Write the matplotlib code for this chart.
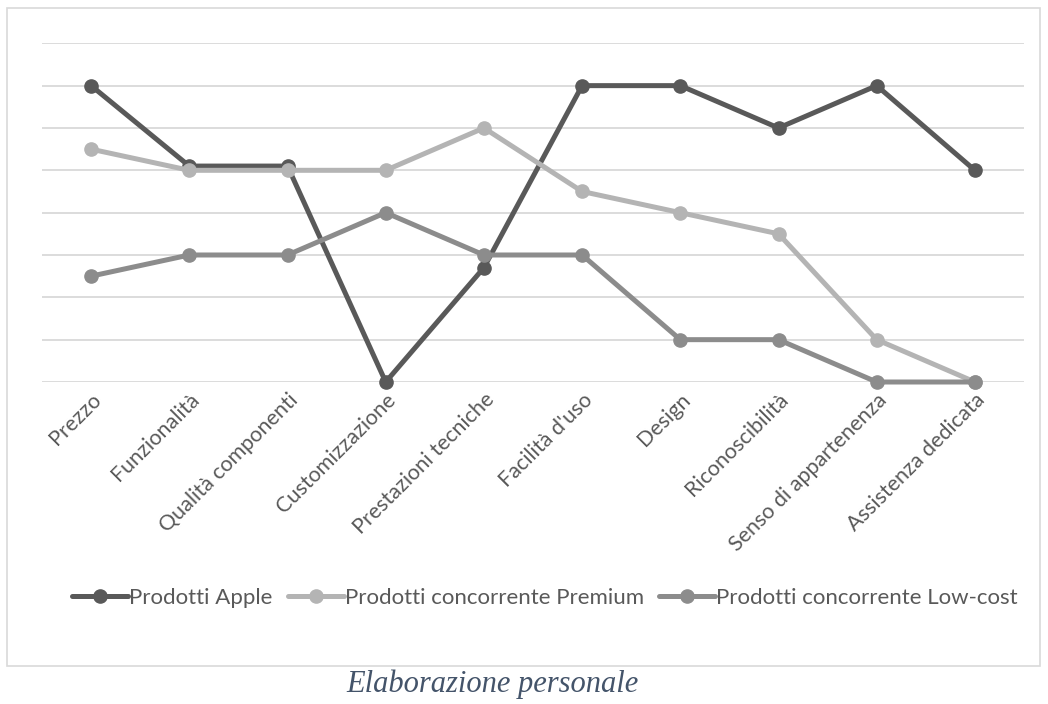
import matplotlib
matplotlib.use("Agg")
import matplotlib.pyplot as plt
from matplotlib.patches import Rectangle

categories = ["Prezzo", "Funzionalità", "Qualità componenti", "Customizzazione",
              "Prestazioni tecniche", "Facilità d'uso", "Design", "Riconoscibilità",
              "Senso di appartenenza", "Assistenza dedicata"]
apple = [7, 5.1, 5.1, 0, 2.7, 7, 7, 6, 7, 5]
premium = [5.5, 5, 5, 5, 6, 4.5, 4, 3.5, 1, 0]
lowcost = [2.5, 3, 3, 4, 3, 3, 1, 1, 0, 0]
series_names = ["Prodotti Apple", "Prodotti concorrente Premium", "Prodotti concorrente Low-cost"]
colors = ["#595959", "#B4B4B4", "#8C8C8C"]

W, H = 1048, 704
fig = plt.figure(figsize=(W / 100, H / 100), dpi=100)
fig.patch.set_facecolor("white")

# chart border
fig.add_artist(Rectangle((7 / W, 1 - 666 / H), (1040 - 7) / W, (666 - 8) / H,
                         transform=fig.transFigure, fill=False,
                         edgecolor="#D9D9D9", linewidth=1.2))

left, right = 42 / W, 1024 / W
top, bottom = 1 - 43.3 / H, 1 - 382 / H
ax = fig.add_axes([left, bottom, right - left, top - bottom])

x = list(range(len(categories)))
for vals, name, c in zip([apple, premium, lowcost], series_names, colors):
    ax.plot(x, vals, color=c, linewidth=3.6, marker="o", markersize=9.5,
            label=name, clip_on=False, solid_capstyle="round")

ax.set_xlim(-0.5, len(categories) - 0.5)
ax.set_ylim(0, 8)
ax.set_yticks(range(0, 9))
ax.yaxis.grid(True, color="#D9D9D9", linewidth=1.3)
ax.set_axisbelow(True)
ax.tick_params(axis="y", left=False, labelleft=False)
ax.tick_params(axis="x", bottom=False, pad=2)
for s in ax.spines.values():
    s.set_visible(False)

ax.set_xticks(x)
ax.set_xticklabels(categories, rotation=45, ha="right", va="top",
                   rotation_mode="anchor", fontsize=15.5, color="#595959",
                   family="Lato")

leg = fig.legend(loc="center", bbox_to_anchor=(545 / W, 1 - 598 / H), ncol=3,
                 frameon=False, prop={"family": "Lato", "size": 16},
                 handlelength=2.5, handletextpad=0.05, columnspacing=0.7,
                 labelcolor="#595959")

fig.text(492 / W, 1 - 684 / H, "Elaborazione personale", ha="center", va="center",
         fontsize=22, style="italic", family="Liberation Serif", color="#44546A")

fig.savefig("out.png", dpi=100)
